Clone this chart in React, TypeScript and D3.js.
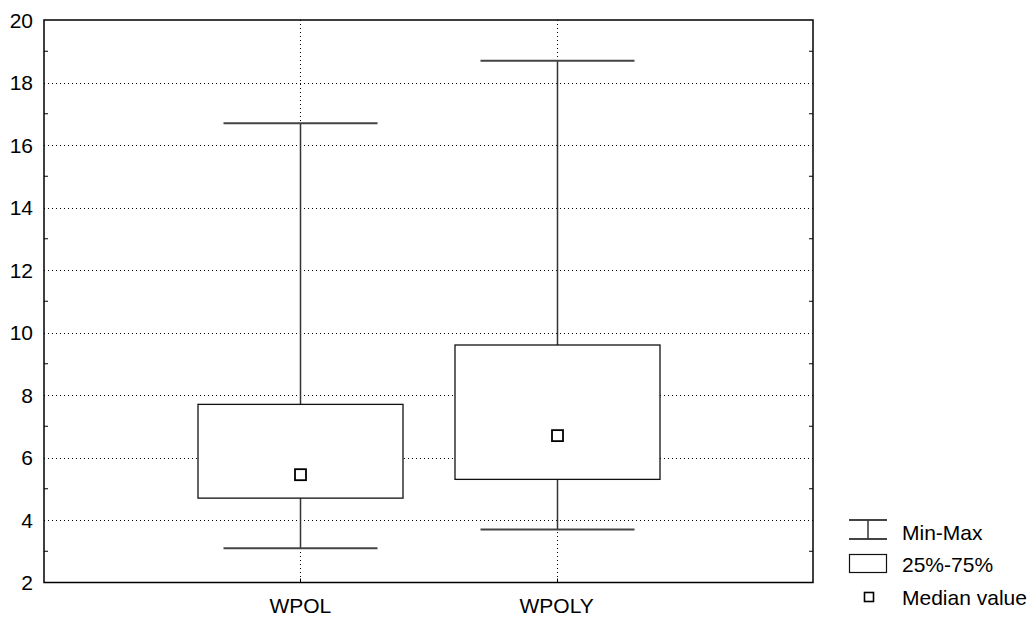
import React from "react";
import * as d3 from "d3";

const categories = ["WPOL", "WPOLY"];
const minValues = [3.1, 3.7];
const maxValues = [16.7, 18.7];
const q1Values = [4.7, 5.3];
const q3Values = [7.7, 9.6];
const medianValues = [5.45, 6.7];
const yTicks = [2, 4, 6, 8, 10, 12, 14, 16, 18, 20];
const yMinorTicks = [3, 5, 7, 9, 11, 13, 15, 17, 19];
const legendLabels = ["Min-Max", "25%-75%", "Median value"];

const W = 1036;
const H = 623;
const left = 44;
const right = 813;
const top = 20;
const bottom = 582.5;
const FONT = "'Liberation Sans', Arial, sans-serif";

export default function App() {
  const y = d3.scaleLinear().domain([2, 20]).range([bottom, top]);
  const x = d3
    .scalePoint<string>()
    .domain(["_a", ...categories, "_b"])
    .range([left, right]);
  const boxHalf = 102.5;
  const capHalf = 77;
  const medHalf = 5.5;

  return (
    <svg
      width={W}
      height={H}
      style={{ position: "absolute", left: 0, top: 0, background: "#fff" }}
      fontFamily={FONT}
    >
      <rect x={0} y={0} width={W} height={H} fill="#fff" />
      {/* horizontal gridlines */}
      {yTicks.slice(1, -1).map((t) => (
        <line
          key={"g" + t}
          x1={left}
          x2={right}
          y1={Math.round(y(t)) + 0.5}
          y2={Math.round(y(t)) + 0.5}
          stroke="#000"
          strokeWidth={1}
          strokeDasharray="1,3"
        />
      ))}
      {/* vertical gridlines */}
      {categories.map((c) => (
        <line
          key={"v" + c}
          x1={Math.round(x(c)!) + 0.5}
          x2={Math.round(x(c)!) + 0.5}
          y1={top}
          y2={bottom}
          stroke="#000"
          strokeWidth={1}
          strokeDasharray="1,3"
        />
      ))}
      {/* boxes */}
      {categories.map((c, i) => {
        const cx = Math.round(x(c)!) + 0.5;
        return (
          <g key={"b" + c}>
            <line x1={cx} x2={cx} y1={y(maxValues[i])} y2={y(q3Values[i])} stroke="#333" strokeWidth={1.5} />
            <line x1={cx} x2={cx} y1={y(q1Values[i])} y2={y(minValues[i])} stroke="#333" strokeWidth={1.5} />
            <line x1={cx - capHalf} x2={cx + capHalf} y1={y(maxValues[i])} y2={y(maxValues[i])} stroke="#444" strokeWidth={2} />
            <line x1={cx - capHalf} x2={cx + capHalf} y1={y(minValues[i])} y2={y(minValues[i])} stroke="#444" strokeWidth={2} />
            <rect
              x={cx - boxHalf}
              y={y(q3Values[i])}
              width={boxHalf * 2}
              height={y(q1Values[i]) - y(q3Values[i])}
              fill="#fff"
              stroke="#111"
              strokeWidth={1.3}
            />
            <rect
              x={cx - medHalf}
              y={y(medianValues[i]) - medHalf}
              width={medHalf * 2}
              height={medHalf * 2}
              fill="#fff"
              stroke="#000"
              strokeWidth={1.8}
            />
          </g>
        );
      })}
      {/* minor ticks */}
      {yMinorTicks.map((t) => (
        <g key={"m" + t}>
          <line x1={left} x2={left + 4} y1={y(t)} y2={y(t)} stroke="#000" strokeWidth={1} />
          <line x1={right - 4} x2={right} y1={y(t)} y2={y(t)} stroke="#000" strokeWidth={1} />
        </g>
      ))}
      {/* x ticks */}
      {categories.map((c) => (
        <line key={"xt" + c} x1={Math.round(x(c)!) + 0.5} x2={Math.round(x(c)!) + 0.5} y1={bottom - 4} y2={bottom} stroke="#000" strokeWidth={1} />
      ))}
      {/* frame */}
      <rect x={left} y={top} width={right - left} height={bottom - top} fill="none" stroke="#000" strokeWidth={1.5} />
      {/* y labels */}
      {yTicks.map((t) => (
        <text key={"yl" + t} x={33} y={y(t)} dy="0.36em" textAnchor="end" fontSize={21} fill="#000">
          {t}
        </text>
      ))}
      {/* x labels */}
      {categories.map((c) => (
        <text key={"xl" + c} x={x(c)!} y={613} textAnchor="middle" fontSize={21} fill="#000">
          {c}
        </text>
      ))}
      {/* legend */}
      <g>
        <line x1={849} x2={887} y1={520} y2={520} stroke="#444" strokeWidth={2} />
        <line x1={849} x2={887} y1={539} y2={539} stroke="#444" strokeWidth={2} />
        <line x1={868} x2={868} y1={520} y2={539} stroke="#333" strokeWidth={1.5} />
        <text x={902} y={540} fontSize={21} fill="#000">{legendLabels[0]}</text>
        <rect x={849.5} y={554.5} width={37} height={18} fill="#fff" stroke="#111" strokeWidth={1.2} />
        <text x={902} y={572} fontSize={21} fill="#000">{legendLabels[1]}</text>
        <rect x={864.5} y={592.5} width={9} height={9} fill="#fff" stroke="#000" strokeWidth={1.6} />
        <text x={902} y={605} fontSize={21} fill="#000">{legendLabels[2]}</text>
      </g>
    </svg>
  );
}
